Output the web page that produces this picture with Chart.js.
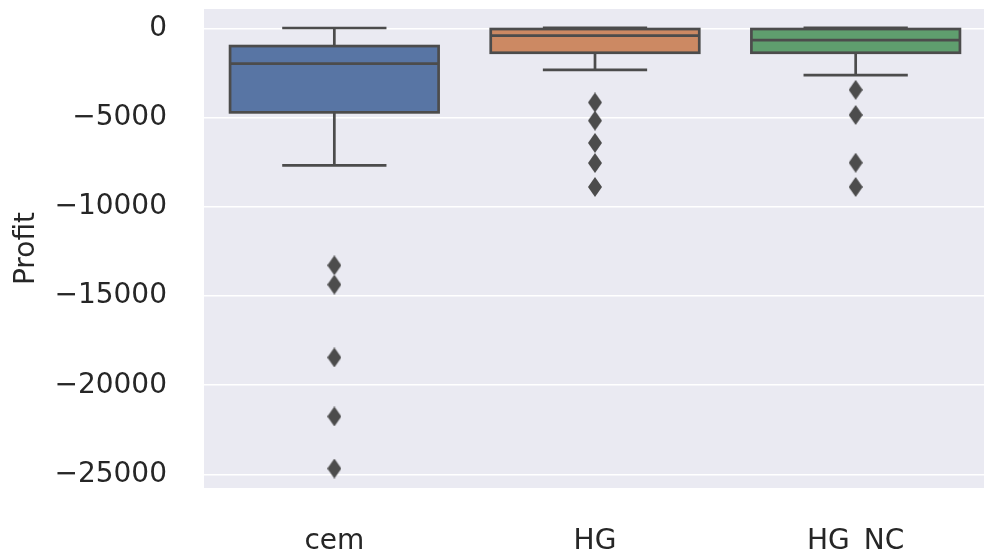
<!DOCTYPE html>
<html>
<head>
<meta charset="utf-8">
<script src="https://cdn.jsdelivr.net/npm/chart.js@4"></script>
<style>
  body { margin: 0; background: #fff; overflow: hidden; }
</style>
</head>
<body>
<canvas id="chart" width="995" height="553"></canvas>
<script>
// data
const categories = ["cem", "HG", "HG_NC"];
const whiskerHigh = [50, 60, 60];
const q3 = [-965, -10, -10];
const medians = [-1950, -380, -630];
const q1 = [-4685, -1340, -1340];
const whiskerLow = [-7660, -2305, -2600];
const cemOutliers = [-13270, -14350, -18440, -21750, -24670];
const hgOutliers = [-4130, -5150, -6400, -7530, -8870];
const hgncOutliers = [-3420, -4830, -7510, -8870];
const yTicks = [0, -5000, -10000, -15000, -20000, -25000];

const boxColors = ["#5875a4", "#cc8963", "#5f9e6e"];
const lineGray = "#4c4c4c";
const textColor = "#262626";
const font = "DejaVu Sans";

// thin diamond marker like matplotlib's "d"
const diamond = document.createElement("canvas");
diamond.width = 14;
diamond.height = 20;
const dc = diamond.getContext("2d");
dc.fillStyle = lineGray;
dc.beginPath();
dc.moveTo(7, 0);
dc.lineTo(14, 10);
dc.lineTo(7, 20);
dc.lineTo(0, 10);
dc.closePath();
dc.fill();

const outlierPoints = [];
cemOutliers.forEach(v => outlierPoints.push({ x: categories[0], y: v }));
hgOutliers.forEach(v => outlierPoints.push({ x: categories[1], y: v }));
hgncOutliers.forEach(v => outlierPoints.push({ x: categories[2], y: v }));

const plotBackground = {
    id: "plotBackground",
    beforeDraw(chart) {
        const { ctx, chartArea } = chart;
        ctx.save();
        ctx.fillStyle = "#eaeaf2";
        ctx.fillRect(chartArea.left, chartArea.top, chartArea.right - chartArea.left, chartArea.bottom - chartArea.top);
        ctx.restore();
    }
};

// box outline, whiskers, caps and medians drawn over the floating bars
const boxParts = {
    id: "boxParts",
    afterDatasetsDraw(chart) {
        const { ctx } = chart;
        const x = chart.scales.x;
        const y = chart.scales.y;
        const meta = chart.getDatasetMeta(0);
        ctx.save();
        ctx.strokeStyle = lineGray;
        ctx.lineWidth = 2.7;
        ctx.lineCap = "butt";
        categories.forEach((c, i) => {
            const cx = x.getPixelForValue(i);
            const half = meta.data[i].width / 2;
            const cap = half / 2;
            const yTop = y.getPixelForValue(q3[i]);
            const yBot = y.getPixelForValue(q1[i]);
            ctx.beginPath();
            ctx.moveTo(cx, yTop);
            ctx.lineTo(cx, y.getPixelForValue(whiskerHigh[i]));
            ctx.moveTo(cx - cap, y.getPixelForValue(whiskerHigh[i]));
            ctx.lineTo(cx + cap, y.getPixelForValue(whiskerHigh[i]));
            ctx.moveTo(cx, yBot);
            ctx.lineTo(cx, y.getPixelForValue(whiskerLow[i]));
            ctx.moveTo(cx - cap, y.getPixelForValue(whiskerLow[i]));
            ctx.lineTo(cx + cap, y.getPixelForValue(whiskerLow[i]));
            ctx.moveTo(cx - half, y.getPixelForValue(medians[i]));
            ctx.lineTo(cx + half, y.getPixelForValue(medians[i]));
            ctx.stroke();
            ctx.strokeRect(cx - half, yTop, half * 2, yBot - yTop);
        });
        ctx.restore();
    }
};

new Chart(document.getElementById("chart"), {
    type: "bar",
    data: {
        labels: categories,
        datasets: [{
            label: "box",
            data: categories.map((c, i) => [q1[i], q3[i]]),
            backgroundColor: boxColors,
            borderWidth: 0,
            barPercentage: 0.8,
            categoryPercentage: 1.0
        }, {
            type: "line",
            label: "outliers",
            data: outlierPoints,
            showLine: false,
            pointStyle: diamond,
            pointRadius: 8,
            pointHoverRadius: 8
        }]
    },
    options: {
        responsive: false,
        animation: false,
        layout: { padding: { top: 6, right: 0, left: 0, bottom: 0 } },
        plugins: {
            legend: { display: false },
            tooltip: { enabled: false }
        },
        scales: {
            x: {
                grid: { display: false },
                border: { display: false },
                ticks: {
                    color: textColor,
                    font: { family: font, size: 28 },
                    padding: 29,
                    maxRotation: 0
                },
                afterFit(scale) {
                    scale.height = 65;
                    scale.paddingLeft = 0;
                    scale.paddingRight = 0;
                }
            },
            y: {
                min: -25764,
                max: 1115,
                afterBuildTicks(scale) {
                    scale.ticks = yTicks.map(v => ({ value: v }));
                },
                grid: { color: "#ffffff", lineWidth: 1.6, drawTicks: false },
                border: { display: false },
                ticks: {
                    color: textColor,
                    font: { family: font, size: 28 },
                    padding: 37,
                    callback: v => (v < 0 ? "\u2212" + Math.abs(v) : String(v))
                },
                title: {
                    display: true,
                    text: "Profit",
                    color: textColor,
                    font: { family: font, size: 28 },
                    padding: { top: 10, bottom: 0 }
                },
                afterFit(scale) {
                    scale.width = 204;
                    scale.paddingTop = 0;
                    scale.paddingBottom = 0;
                }
            }
        }
    },
    plugins: [plotBackground, boxParts]
});
</script>
</body>
</html>
